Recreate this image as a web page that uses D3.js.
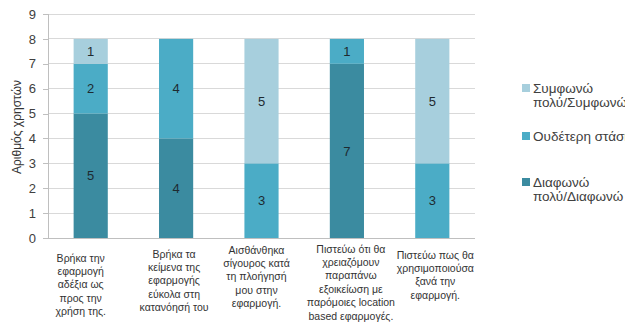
<!DOCTYPE html>
<html>
<head>
<meta charset="utf-8">
<script src="https://cdn.jsdelivr.net/npm/d3@7"></script>
<style>
  html, body { margin: 0; padding: 0; background: #fff; overflow: hidden; }
  svg { display: block; font-family: "Liberation Sans", "DejaVu Sans", sans-serif; }
</style>
</head>
<body>
<svg id="chart" width="625" height="323"></svg>
<script>
// Survey statements (x-axis categories), each split into wrapped lines
const categories = [
  ["Βρήκα την", "εφαρμογή", "αδέξια ως", "προς την", "χρήση της."],
  ["Βρήκα τα", "κείμενα της", "εφαρμογής", "εύκολα στη", "κατανόησή του"],
  ["Αισθάνθηκα", "σίγουρος κατά", "τη πλοήγησή", "μου στην", "εφαρμογή."],
  ["Πιστεύω ότι θα", "χρειαζόμουν", "παραπάνω", "εξοικείωση με", "παρόμοιες location", "based εφαρμογές."],
  ["Πιστεύω πως θα", "χρησιμοποιούσα", "ξανά την", "εφαρμογή."]
];

// Answers per statement (number of users)
const disagree = [5, 4, 0, 7, 0];   // Διαφωνώ πολύ/Διαφωνώ
const neutral  = [2, 4, 3, 1, 3];   // Ουδέτερη στάση
const agree    = [1, 0, 5, 0, 5];   // Συμφωνώ πολύ/Συμφωνώ

const seriesNames = ["Διαφωνώ πολύ/Διαφωνώ", "Ουδέτερη στάση", "Συμφωνώ πολύ/Συμφωνώ"];
const legendLines = [["Διαφωνώ", "πολύ/Διαφωνώ"], ["Ουδέτερη στάση"], ["Συμφωνώ", "πολύ/Συμφωνώ"]];
const yTicks = [0, 1, 2, 3, 4, 5, 6, 7, 8, 9];
const yTitle = "Αριθμός χρηστών";

// Layout / style
const colors = ["#3b8ba0", "#4bacc6", "#a7cfdd"];
const labelShift = [-10, -2, -5, 4, 3];     // horizontal nudge of wrapped category labels
const labelTop   = [258, 254, 250, 249, 255];
const plot = { left: 48, right: 475, top: 14, bottom: 238 };

const svg = d3.select("#chart");

const x = d3.scaleBand()
  .domain(d3.range(categories.length))
  .range([plot.left, plot.right])
  .paddingInner(0.6)
  .paddingOuter(0.3);

const y = d3.scaleLinear().domain([0, 9]).range([plot.bottom, plot.top]);

// Gridlines
svg.append("g")
  .selectAll("line")
  .data(yTicks)
  .join("line")
  .attr("x1", plot.left).attr("x2", plot.right)
  .attr("y1", d => y(d)).attr("y2", d => y(d))
  .attr("stroke", "#d9d9d9").attr("stroke-width", 1)
  .attr("shape-rendering", "crispEdges");

// Y axis
const yAxis = svg.append("g")
  .attr("transform", `translate(${plot.left},0)`)
  .call(d3.axisLeft(y).tickValues(yTicks).tickSize(5).tickPadding(7).tickFormat(d3.format("d")));
yAxis.select(".domain").attr("stroke", "#bfbfbf").attr("shape-rendering", "crispEdges");
yAxis.selectAll(".tick line").attr("stroke", "#bfbfbf").attr("shape-rendering", "crispEdges");
yAxis.selectAll(".tick text")
  .attr("fill", "#404040")
  .style("font-size", "13px")
  .style("font-family", "Liberation Sans, sans-serif");

// Bottom axis line
svg.append("line")
  .attr("x1", plot.left).attr("x2", plot.right)
  .attr("y1", y(0)).attr("y2", y(0))
  .attr("stroke", "#bfbfbf").attr("shape-rendering", "crispEdges");

// Stacked bars
const rows = categories.map((c, i) => ({ i, s0: disagree[i], s1: neutral[i], s2: agree[i] }));
const stack = d3.stack().keys(["s0", "s1", "s2"]);
const layers = stack(rows);

const layerG = svg.append("g")
  .selectAll("g")
  .data(layers)
  .join("g")
  .attr("fill", (d, k) => colors[k]);

layerG.selectAll("rect")
  .data(d => d.filter(p => p[1] - p[0] > 0))
  .join("rect")
  .attr("x", p => x(p.data.i))
  .attr("width", x.bandwidth())
  .attr("y", p => y(p[1]))
  .attr("height", p => y(p[0]) - y(p[1]));

// Segment value labels
layerG.selectAll("text")
  .data(d => d.filter(p => p[1] - p[0] > 0))
  .join("text")
  .attr("x", p => x(p.data.i) + x.bandwidth() / 2)
  .attr("y", p => (y(p[0]) + y(p[1])) / 2)
  .attr("dy", "0.36em")
  .attr("text-anchor", "middle")
  .attr("fill", "#1e2a30")
  .style("font-size", "13px")
  .text(p => p[1] - p[0]);

// Category labels
const catG = svg.append("g")
  .selectAll("text")
  .data(categories)
  .join("text")
  .attr("text-anchor", "middle")
  .attr("fill", "#333")
  .style("font-size", "10.5px")
  .attr("transform", (d, i) => `translate(${x(i) + x.bandwidth() / 2 + labelShift[i]},${labelTop[i]})`);
catG.selectAll("tspan")
  .data(d => d)
  .join("tspan")
  .attr("x", 0)
  .attr("y", (d, j) => j * 13.4)
  .attr("dy", "0.35em")
  .text(d => d);

// Y axis title
svg.append("text")
  .attr("transform", `translate(17,127) rotate(-90)`)
  .attr("text-anchor", "middle")
  .attr("dy", "0.35em")
  .attr("fill", "#333")
  .style("font-size", "12px")
  .text(yTitle);

// Legend (top to bottom: agree, neutral, disagree)
const legendOrder = [2, 1, 0];
const legendY = [88, 136, 182];
const leg = svg.append("g")
  .selectAll("g")
  .data(legendOrder)
  .join("g")
  .attr("transform", (k, r) => `translate(522,${legendY[r]})`);
leg.append("rect")
  .attr("x", 0).attr("y", -4)
  .attr("width", 8).attr("height", 8)
  .attr("fill", k => colors[k]);
leg.append("text")
  .attr("fill", "#404040")
  .style("font-size", "13.5px")
  .selectAll("tspan")
  .data(k => legendLines[k])
  .join("tspan")
  .attr("x", 11)
  .attr("y", (d, j) => j * 14)
  .attr("dy", "0.35em")
  .text(d => d);
</script>
</body>
</html>
